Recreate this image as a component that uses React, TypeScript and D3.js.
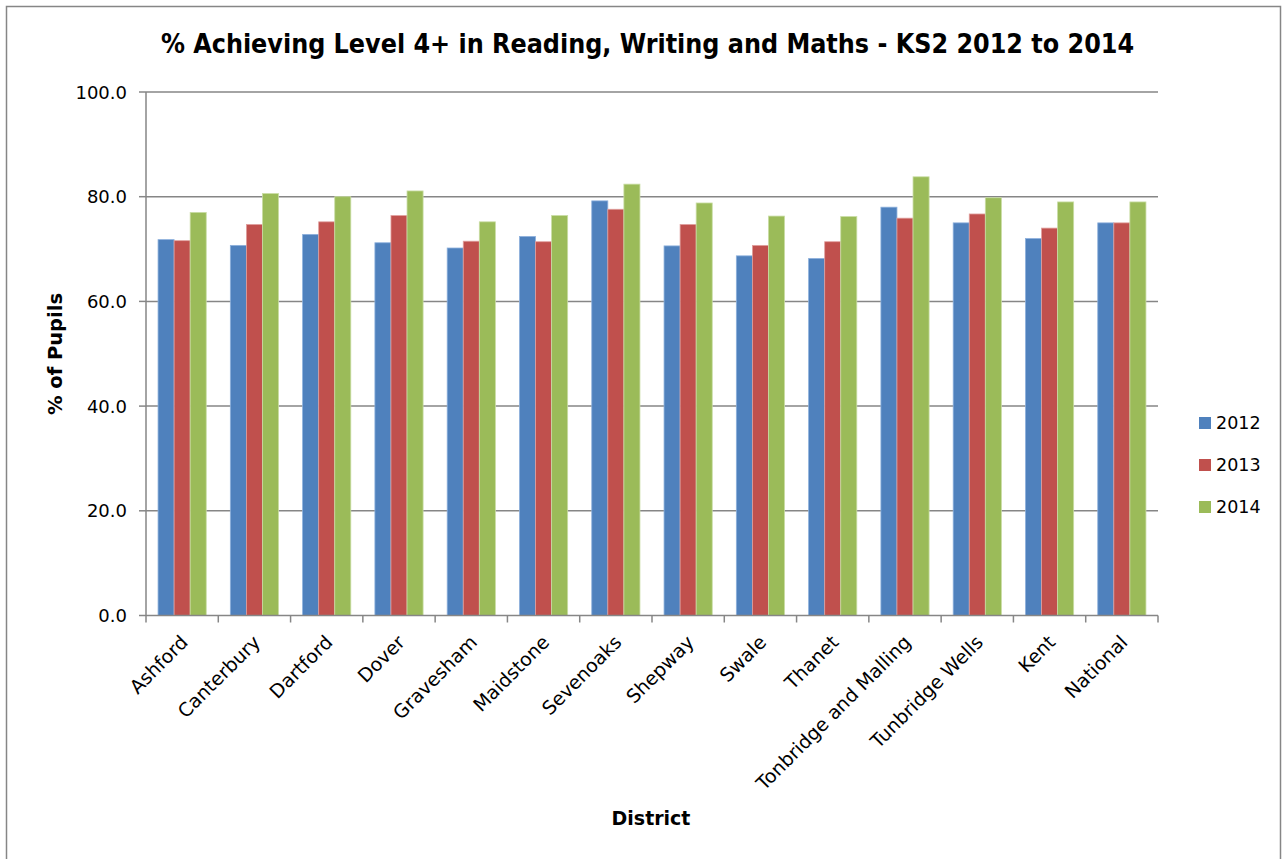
import React from "react";
import * as d3 from "d3";

const districts = ["Ashford","Canterbury","Dartford","Dover","Gravesham","Maidstone","Sevenoaks","Shepway","Swale","Thanet","Tonbridge and Malling","Tunbridge Wells","Kent","National"];
const years = ["2012","2013","2014"];
const values2012 = [71.8,70.7,72.8,71.2,70.2,72.4,79.2,70.6,68.7,68.2,78.0,75.0,72.0,75.0];
const values2013 = [71.6,74.7,75.2,76.4,71.5,71.4,77.6,74.7,70.7,71.4,75.9,76.7,74.0,75.0];
const values2014 = [77.0,80.6,80.0,81.1,75.2,76.4,82.4,78.8,76.3,76.2,83.8,79.8,79.0,79.0];
const yTicks = [0,20,40,60,80,100];
const colors = ["#4F81BD","#C0504D","#9BBB59"];
const edgeColors = ["#8DB0DC","#E0A09E","#C9DDA4"];

export default function App() {
  const W = 1287, H = 859;
  const left = 146, right = 1158, top = 92, bottom = 615.5;
  const x = d3.scaleBand<string>().domain(districts).range([left, right]).paddingInner(0).paddingOuter(0);
  const y = d3.scaleLinear().domain([0, 100]).range([bottom, top]);
  const series = [values2012, values2013, values2014];
  const bw = x.bandwidth() / 4.5;
  const font = "'DejaVu Sans', Verdana, sans-serif";
  const condensed = "'DejaVu Sans Condensed', 'DejaVu Sans', sans-serif";
  return (
    <svg width={W} height={H} style={{ position: "absolute", left: 0, top: 0, background: "#fff" }} fontFamily={font}>
      <rect x={6.5} y={6.5} width={1274} height={870} fill="#fff" stroke="#868686" strokeWidth={1.5} />
      <text x={647.5} y={53} textAnchor="middle" fontWeight="bold" fontSize={26.6} fontFamily={condensed} fontStretch="condensed" fill="#000">% Achieving Level 4+ in Reading, Writing and Maths - KS2 2012 to 2014</text>
      {yTicks.map(t => (
        <g key={t}>
          {t > 0 && <line x1={left} x2={right} y1={y(t)} y2={y(t)} stroke="#868686" strokeWidth={1.5} />}
          <line x1={left - 7} x2={left} y1={y(t)} y2={y(t)} stroke="#868686" strokeWidth={1.5} />
          <text x={left - 19} y={y(t) + 6.5} textAnchor="end" fontSize={18} fill="#000">{t.toFixed(1)}</text>
        </g>
      ))}
      {districts.map((d, i) => (
        <g key={d}>
          {series.map((s, k) => (
            <rect key={k} x={(x(d) as number) + bw * (0.75 + k)} y={y(s[i])} width={bw} height={bottom - y(s[i])} fill={colors[k]} stroke={edgeColors[k]} strokeWidth={0.8} />
          ))}
        </g>
      ))}
      <line x1={left} x2={left} y1={top} y2={bottom} stroke="#868686" strokeWidth={1.5} />
      <line x1={left} x2={right} y1={bottom} y2={bottom} stroke="#868686" strokeWidth={1.5} />
      {districts.concat(["__end"]).map((d, i) => {
        const xx = left + i * x.step();
        return <line key={"t" + i} x1={xx} x2={xx} y1={bottom} y2={bottom + 7} stroke="#868686" strokeWidth={1.5} />;
      })}
      {districts.map(d => {
        const cx = (x(d) as number) + x.bandwidth() / 2 + 7;
        const cy = bottom + 28;
        return (
          <text key={"l" + d} transform={`translate(${cx},${cy}) rotate(-45)`} textAnchor="end" fontSize={19} fill="#000">{d}</text>
        );
      })}
      <text transform={`translate(62,354) rotate(-90)`} textAnchor="middle" fontWeight="bold" fontSize={19.5} fill="#000">% of Pupils</text>
      <text x={651} y={825} textAnchor="middle" fontWeight="bold" fontSize={19} fill="#000">District</text>
      {years.map((yr, k) => (
        <g key={yr}>
          <rect x={1199} y={417 + k * 42} width={12} height={12} fill={colors[k]} />
          <text x={1216} y={429 + k * 42} fontSize={17.5} fill="#000">{yr}</text>
        </g>
      ))}
    </svg>
  );
}
